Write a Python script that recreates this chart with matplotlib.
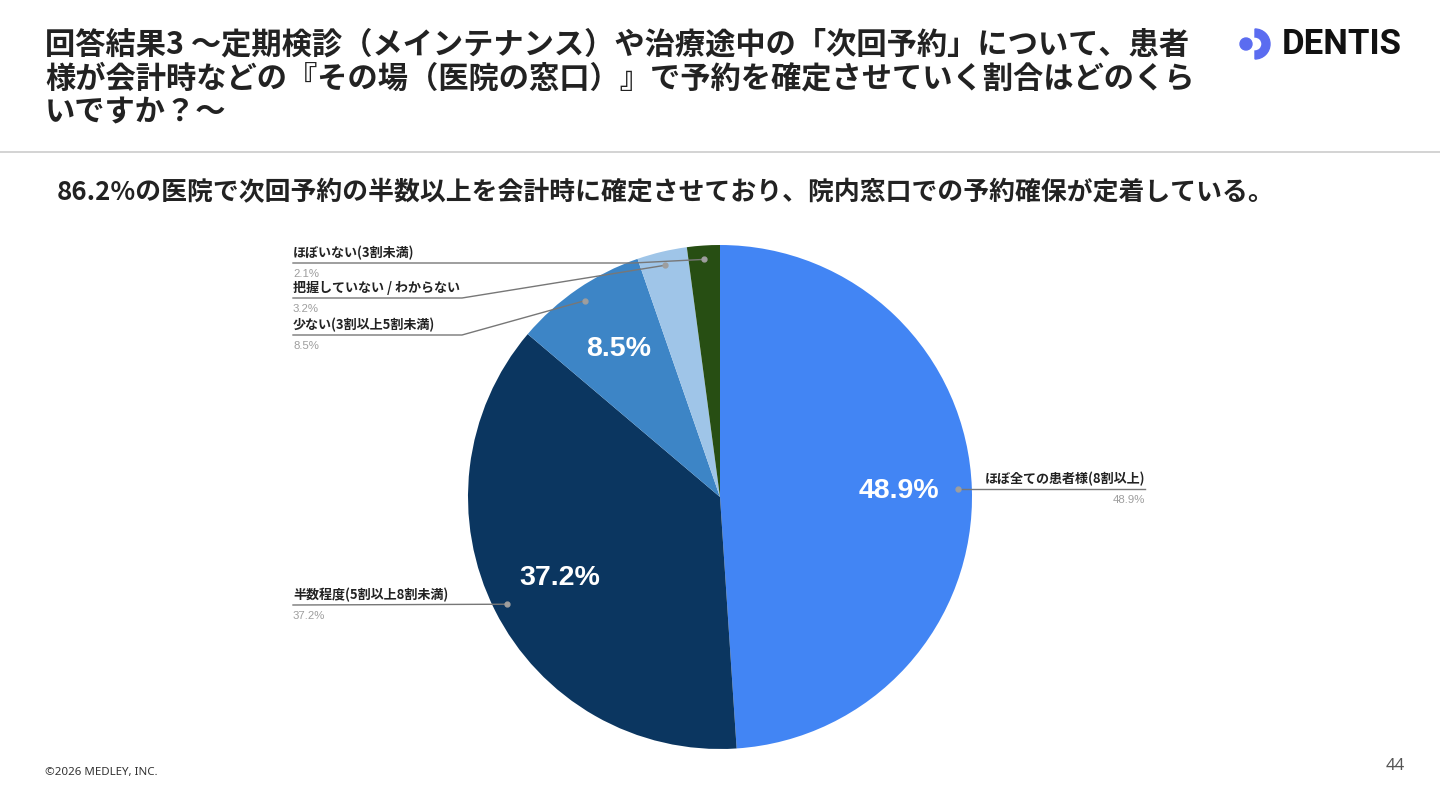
import numpy as np
import matplotlib
matplotlib.use('Agg')
import matplotlib.pyplot as plt
from matplotlib.patches import Circle, Wedge

plt.rcParams['font.family'] = ['Noto Sans CJK JP', 'DejaVu Sans']

# データ
labels = ['ほぼ全ての患者様(8割以上)', '半数程度(5割以上8割未満)', '少ない(3割以上5割未満)',
          '把握していない / わからない', 'ほぼいない(3割未満)']
values = [48.9, 37.2, 8.5, 3.2, 2.1]
colors = ['#4285f4', '#0b3660', '#3d85c6', '#9fc5e8', '#274e13']

title_lines = ['回答結果3 〜定期検診（メインテナンス）や治療途中の「次回予約」について、患者',
               '様が会計時などの『その場（医院の窓口）』で予約を確定させていく割合はどのくら',
               'いですか？〜']
subtitle = '86.2%の医院で次回予約の半数以上を会計時に確定させており、院内窓口での予約確保が定着している。'

W, H = 1440, 810
def Y(y):
    return H - y

fig = plt.figure(figsize=(14.4, 8.1), dpi=100)
ax = fig.add_axes([0, 0, 1, 1])

cx, cy, R = 720, Y(497), 252
wedges, _ = ax.pie(values, colors=colors, startangle=90, counterclock=False,
                   center=(cx, cy), radius=R, wedgeprops=dict(linewidth=0))
ax.set_xlim(0, W)
ax.set_ylim(0, H)
ax.set_aspect('equal')
ax.axis('off')

# 扇形内のラベル
for w, v in zip(wedges, values):
    if v < 5:
        continue
    a = np.deg2rad((w.theta1 + w.theta2) / 2)
    ax.text(cx + 0.71 * R * np.cos(a), cy + 0.71 * R * np.sin(a), f'{v:.1f}%',
            color='white', fontsize=20.5, fontweight='bold', family='Liberation Sans',
            ha='center', va='center')

# 引き出し線: (ラベル側の線の高さ, 折れ点x, 左右)
leaders = [(489, 1145, 'right'), (605, None, 'left'), (335, 462, 'left'),
           (298, 462, 'left'), (263, 633, 'left')]
for w, lab, v, (ly, ex, side) in zip(wedges, labels, values, leaders):
    a = np.deg2rad((w.theta1 + w.theta2) / 2)
    dx, dy = cx + 0.945 * R * np.cos(a), cy + 0.945 * R * np.sin(a)
    if side == 'right':
        ax.plot([dx, ex], [dy, dy], color='#777777', lw=1)
        tx, ha, ty = ex, 'right', dy
    else:
        xs = [293] + ([ex] if ex else []) + [dx]
        ys = [Y(ly)] + ([Y(ly)] if ex else []) + [dy]
        ax.plot(xs, ys, color='#777777', lw=1)
        tx, ha, ty = 293, 'left', Y(ly)
    ax.plot(dx, dy, 'o', color='#9e9e9e', ms=3.5)
    ax.text(tx, ty + 10, lab, fontsize=9.4, fontweight='bold', color='#222222',
            ha=ha, va='center')
    ax.text(tx, ty - 11, f'{v:.1f}%', fontsize=8.2, color='#9e9e9e',
            ha=ha, va='center', family='Liberation Sans')

# タイトル
for i, t in enumerate(title_lines):
    ax.text(45, Y(45 + 33.5 * i), t, fontsize=21.8, fontweight='bold', color='#222222',
            ha='left', va='center')
ax.plot([0, W], [Y(152), Y(152)], color='#cccccc', lw=1.2)
ax.text(57, Y(193), subtitle, fontsize=18.6, fontweight='bold', color='#222222',
        ha='left', va='center')

# ロゴ
ax.add_patch(Circle((1246, Y(44)), 6, color='#5b6cf0'))
ax.add_patch(Wedge((1255, Y(44)), 15, -90, 90, width=8, color='#5b6cf0'))
ax.text(1282, Y(44), 'DENTIS', fontsize=25, fontweight='bold', family='Roboto',
        color='#111111', ha='left', va='center')

# フッター
ax.text(45, Y(772), '©2026 MEDLEY, INC.', fontsize=8.3, color='#333333',
        ha='left', va='center', family='Noto Sans')
ax.text(1405, Y(766), '44', fontsize=12, color='#555555', ha='right', va='center',
        family='Noto Sans')

fig.savefig('out.png', dpi=100, facecolor='white')
